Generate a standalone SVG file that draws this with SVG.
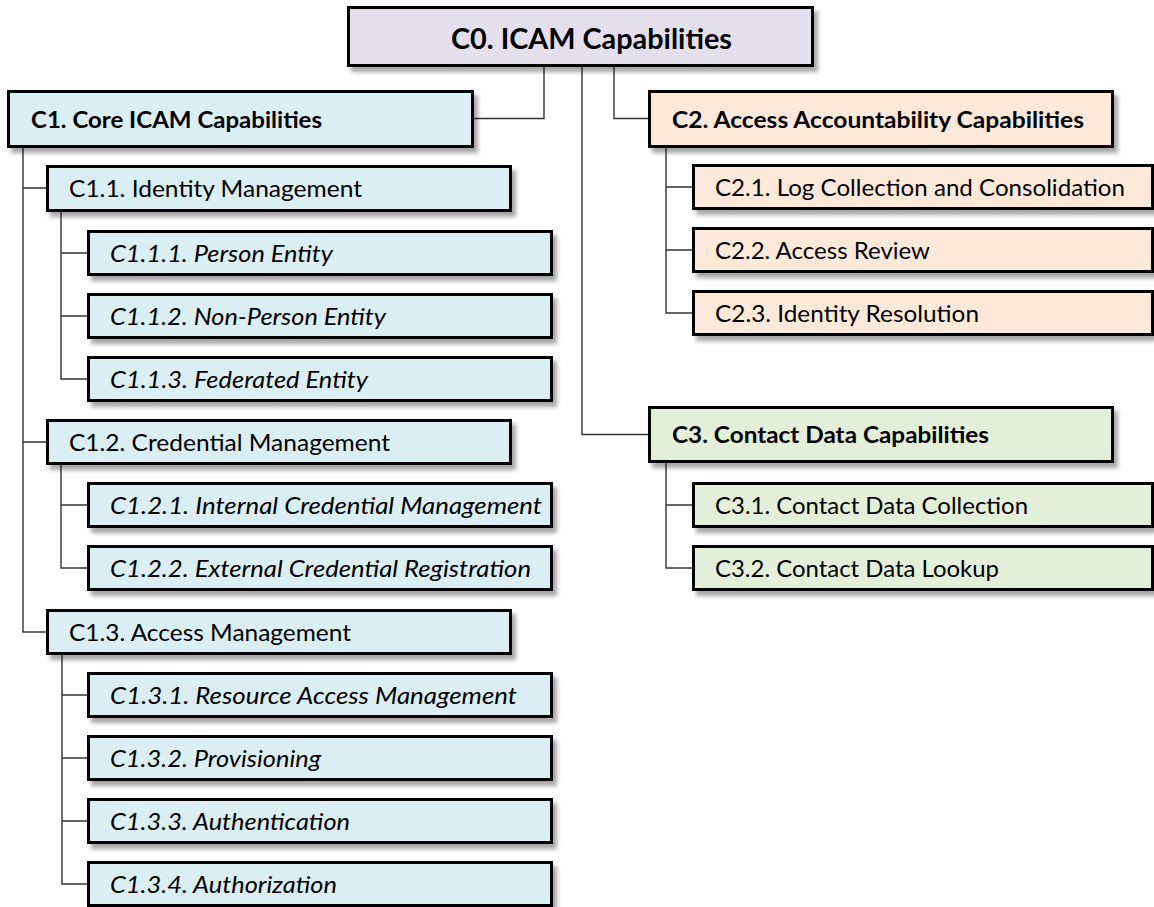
<svg xmlns="http://www.w3.org/2000/svg" width="1154" height="907" viewBox="0 0 1154 907">
<style>
text{font-family:Lato,"Liberation Sans",sans-serif;font-size:23.7px;fill:#000}
.b{font-weight:bold}
.i{font-style:italic}
.t0{font-size:28.5px;font-weight:bold}
.box{stroke:#000;stroke-width:3}
.p{fill:#E4DFEC}
.bl{fill:#DAEEF3}
.o{fill:#FDE9D9}
.g{fill:#E3EFD9}
.c{fill:none;stroke:#333;stroke-width:1.4}
</style>
<defs>
<filter id="sh" x="-5%" y="-20%" width="115%" height="150%">
<feDropShadow dx="4" dy="5" stdDeviation="2.2" flood-color="#000" flood-opacity="0.35"/>
</filter>
</defs>
<g id="connectors">
<path class="c" d="M544 67V118.5H474"/>
<path class="c" d="M614 67V118.5H648"/>
<path class="c" d="M582 67V434.5H648"/>
<path class="c" d="M23 148V632H46M23 188H46M23 442H46"/>
<path class="c" d="M61 212V379H87M61 253H87M61 316H87"/>
<path class="c" d="M61 463V568H87M61 505H87"/>
<path class="c" d="M62 655V884H87M62 695H87M62 758H87M62 821H87"/>
<path class="c" d="M666 148V313H692M666 187H692M666 250H692"/>
<path class="c" d="M666 463V568H692M666 505H692"/>
</g>
<g id="C0"><rect class="box p" filter="url(#sh)" x="348.5" y="7.5" width="464" height="58"/><text class="t0" x="451" y="49" textLength="281" lengthAdjust="spacingAndGlyphs">C0. ICAM Capabilities</text></g>
<g id="C1"><rect class="box bl" filter="url(#sh)" x="8.5" y="91.5" width="464" height="55"/><text class="b" x="31" y="127.5" textLength="291" lengthAdjust="spacingAndGlyphs">C1. Core ICAM Capabilities</text></g>
<g id="C1.1"><rect class="box bl" filter="url(#sh)" x="47.5" y="166.5" width="463" height="44"/><text x="69" y="197" textLength="293" lengthAdjust="spacingAndGlyphs">C1.1. Identity Management</text></g>
<g id="C1.1.1"><rect class="box bl" filter="url(#sh)" x="88.5" y="231.5" width="463" height="43"/><text class="i" x="110" y="261.5" textLength="223" lengthAdjust="spacingAndGlyphs">C1.1.1. Person Entity</text></g>
<g id="C1.1.2"><rect class="box bl" filter="url(#sh)" x="88.5" y="294.5" width="463" height="43"/><text class="i" x="110" y="324.5" textLength="276" lengthAdjust="spacingAndGlyphs">C1.1.2. Non-Person Entity</text></g>
<g id="C1.1.3"><rect class="box bl" filter="url(#sh)" x="88.5" y="357.5" width="463" height="43"/><text class="i" x="110" y="387.5" textLength="258" lengthAdjust="spacingAndGlyphs">C1.1.3. Federated Entity</text></g>
<g id="C1.2"><rect class="box bl" filter="url(#sh)" x="47.5" y="420.5" width="463" height="43"/><text x="69" y="450.5" textLength="321" lengthAdjust="spacingAndGlyphs">C1.2. Credential Management</text></g>
<g id="C1.2.1"><rect class="box bl" filter="url(#sh)" x="88.5" y="483.5" width="463" height="43"/><text class="i" x="110" y="513.5" textLength="432" lengthAdjust="spacingAndGlyphs">C1.2.1. Internal Credential Management</text></g>
<g id="C1.2.2"><rect class="box bl" filter="url(#sh)" x="88.5" y="546.5" width="463" height="43"/><text class="i" x="110" y="576.5" textLength="421" lengthAdjust="spacingAndGlyphs">C1.2.2. External Credential Registration</text></g>
<g id="C1.3"><rect class="box bl" filter="url(#sh)" x="47.5" y="610.5" width="463" height="43"/><text x="69" y="640.5" textLength="282" lengthAdjust="spacingAndGlyphs">C1.3. Access Management</text></g>
<g id="C1.3.1"><rect class="box bl" filter="url(#sh)" x="88.5" y="673.5" width="463" height="43"/><text class="i" x="110" y="703.5" textLength="407" lengthAdjust="spacingAndGlyphs">C1.3.1. Resource Access Management</text></g>
<g id="C1.3.2"><rect class="box bl" filter="url(#sh)" x="88.5" y="736.5" width="463" height="43"/><text class="i" x="110" y="766.5" textLength="211" lengthAdjust="spacingAndGlyphs">C1.3.2. Provisioning</text></g>
<g id="C1.3.3"><rect class="box bl" filter="url(#sh)" x="88.5" y="799.5" width="463" height="43"/><text class="i" x="110" y="829.5" textLength="240" lengthAdjust="spacingAndGlyphs">C1.3.3. Authentication</text></g>
<g id="C1.3.4"><rect class="box bl" filter="url(#sh)" x="88.5" y="862.5" width="463" height="43"/><text class="i" x="110" y="892.5" textLength="227" lengthAdjust="spacingAndGlyphs">C1.3.4. Authorization</text></g>
<g id="C2"><rect class="box o" filter="url(#sh)" x="649.5" y="91.5" width="463" height="55"/><text class="b" x="672" y="127.5" textLength="412" lengthAdjust="spacingAndGlyphs">C2. Access Accountability Capabilities</text></g>
<g id="C2.1"><rect class="box o" filter="url(#sh)" x="693.5" y="165.5" width="459" height="43"/><text x="715" y="195.5" textLength="410" lengthAdjust="spacingAndGlyphs">C2.1. Log Collection and Consolidation</text></g>
<g id="C2.2"><rect class="box o" filter="url(#sh)" x="693.5" y="228.5" width="459" height="43"/><text x="715" y="258.5" textLength="215" lengthAdjust="spacingAndGlyphs">C2.2. Access Review</text></g>
<g id="C2.3"><rect class="box o" filter="url(#sh)" x="693.5" y="291.5" width="459" height="43"/><text x="715" y="321.5" textLength="264" lengthAdjust="spacingAndGlyphs">C2.3. Identity Resolution</text></g>
<g id="C3"><rect class="box g" filter="url(#sh)" x="649.5" y="407.5" width="463" height="54"/><text class="b" x="672" y="443" textLength="317" lengthAdjust="spacingAndGlyphs">C3. Contact Data Capabilities</text></g>
<g id="C3.1"><rect class="box g" filter="url(#sh)" x="693.5" y="483.5" width="459" height="43"/><text x="715" y="513.5" textLength="313" lengthAdjust="spacingAndGlyphs">C3.1. Contact Data Collection</text></g>
<g id="C3.2"><rect class="box g" filter="url(#sh)" x="693.5" y="546.5" width="459" height="43"/><text x="715" y="576.5" textLength="284" lengthAdjust="spacingAndGlyphs">C3.2. Contact Data Lookup</text></g>
</svg>
